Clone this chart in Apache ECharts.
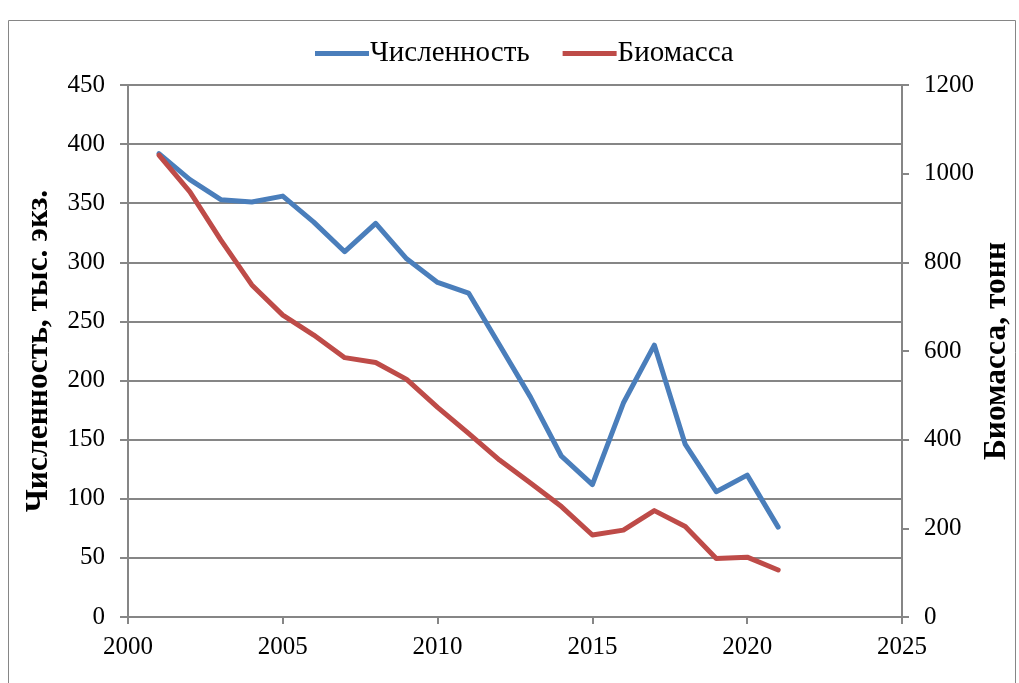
<!DOCTYPE html>
<html>
<head>
<meta charset="utf-8">
<script src="https://cdn.jsdelivr.net/npm/echarts@6/dist/echarts.min.js"></script>
<style>
html,body{margin:0;padding:0;background:#fff;}
#chart{width:1019px;height:683px;}
</style>
</head>
<body>
<div id="chart"></div>
<script>
const years = [2001,2002,2003,2004,2005,2006,2007,2008,2009,2010,2011,2012,2013,2014,2015,2016,2017,2018,2019,2020,2021];
const abundance = [392,370,353,351,356,334,309,333,303,283,274,230,186,136,112,181,230,146,106,120,76];
const biomass = [1042,959,850,749,681,636,585,574,536,473,414,354,302,249,185,196,240,204,132,135,106];
const seriesNames = ['Численность','Биомасса'];
const axisNames = ['Численность, тыс. экз.','Биомасса, тонн'];

const font = 'Liberation Serif, Times New Roman, serif';
const gray = '#868686';
const chart = echarts.init(document.getElementById('chart'), null, {renderer:'canvas'});
chart.setOption({
  animation:false,
  backgroundColor:'#fff',
  graphic:[{type:'rect',shape:{x:8.5,y:20.5,width:1007,height:700},style:{fill:'none',stroke:gray,lineWidth:1}}],
  legend:{
    top:34, left:310, itemWidth:54, itemHeight:5, itemGap:33,
    icon:'rect',
    textStyle:{fontFamily:font,fontSize:29,color:'#000',padding:[0,0,0,-4]},
    data:seriesNames
  },
  grid:{left:128,right:117,top:85,bottom:66,containLabel:false,outerBoundsMode:'none'},
  xAxis:{
    type:'value',min:2000,max:2025,interval:5,
    axisLine:{lineStyle:{color:gray,width:2}},
    axisTick:{show:true,length:7,lineStyle:{color:gray,width:2}},
    splitLine:{show:false},
    axisLabel:{fontFamily:font,fontSize:25,color:'#000',margin:18,formatter:v=>String(v)}
  },
  yAxis:[{
    type:'value',min:0,max:450,interval:50,position:'left',
    name:axisNames[0],nameLocation:'middle',nameRotate:90,nameGap:73,nameMoveOverlap:false,
    nameTextStyle:{fontFamily:font,fontSize:31.5,fontWeight:'bold',color:'#000'},
    axisLine:{show:true,lineStyle:{color:gray,width:2}},
    axisTick:{show:true,length:8,lineStyle:{color:gray,width:2}},
    splitLine:{show:true,lineStyle:{color:gray,width:2}},
    axisLabel:{fontFamily:font,fontSize:25,color:'#000',margin:23,formatter:v=>String(v)}
  },{
    type:'value',min:0,max:1200,interval:200,position:'right',
    name:axisNames[1],nameLocation:'middle',nameRotate:90,nameGap:79,nameMoveOverlap:false,
    nameTextStyle:{fontFamily:font,fontSize:31.5,fontWeight:'bold',color:'#000'},
    axisLine:{show:true,lineStyle:{color:gray,width:2}},
    axisTick:{show:true,length:7,lineStyle:{color:gray,width:2}},
    splitLine:{show:false},
    axisLabel:{fontFamily:font,fontSize:25,color:'#000',margin:22,formatter:v=>String(v)}
  }],
  series:[{
    name:seriesNames[0],type:'line',yAxisIndex:0,
    data:years.map((y,i)=>[y,abundance[i]]),
    showSymbol:false,symbol:'none',
    lineStyle:{color:'#4A7EBB',width:5,join:'round',cap:'round'},
    itemStyle:{color:'#4A7EBB'}
  },{
    name:seriesNames[1],type:'line',yAxisIndex:1,
    data:years.map((y,i)=>[y,biomass[i]]),
    showSymbol:false,symbol:'none',
    lineStyle:{color:'#BE4B48',width:5,join:'round',cap:'round'},
    itemStyle:{color:'#BE4B48'}
  }]
});
</script>
</body>
</html>
